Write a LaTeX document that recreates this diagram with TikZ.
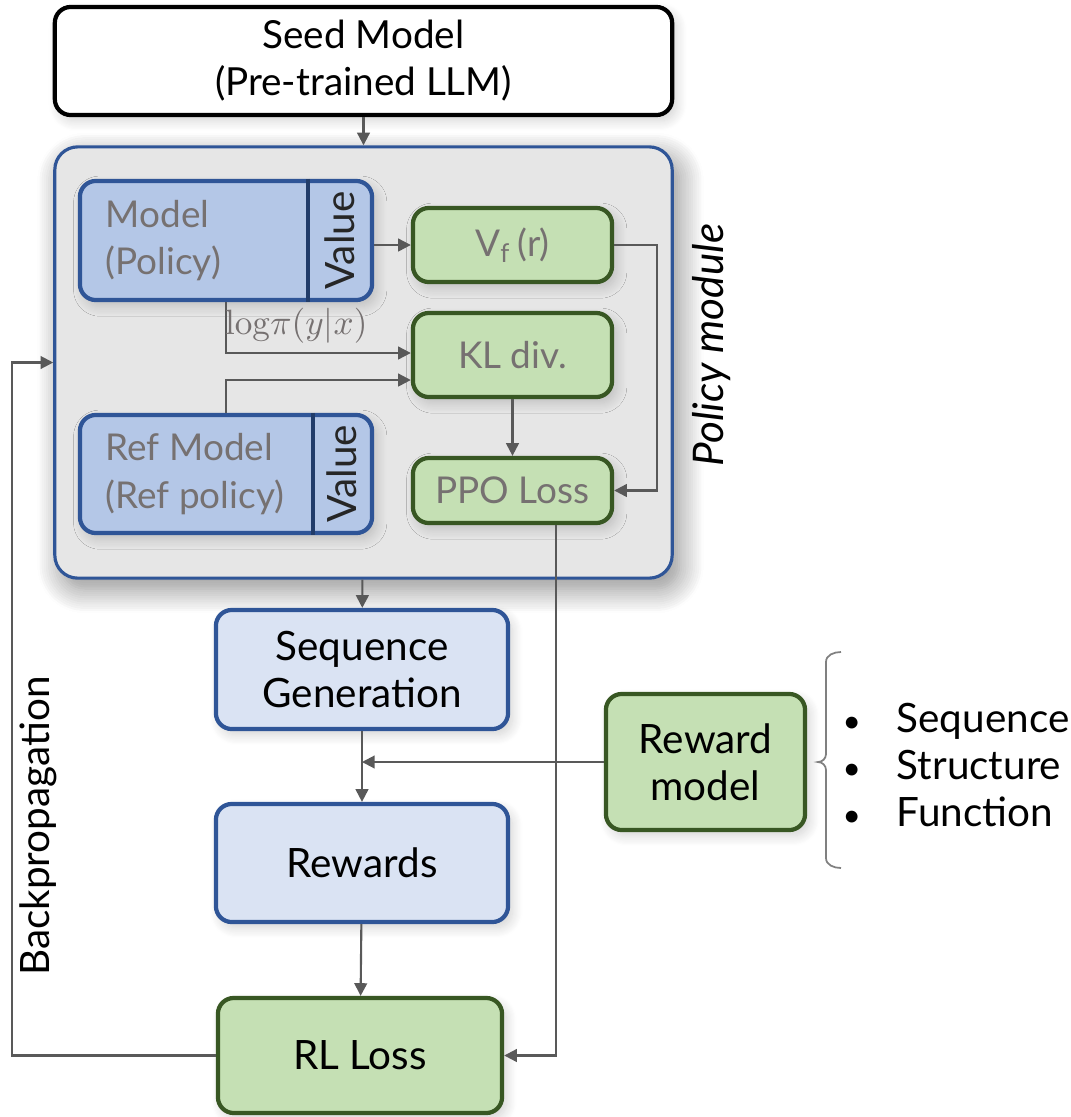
\documentclass[tikz,border=0pt]{standalone}
\usepackage[no-math]{fontspec}
\setmainfont{Lato}
\usetikzlibrary{arrows.meta,shadows.blur}

\definecolor{boxblue}{HTML}{2F5597}
\definecolor{modelfill}{HTML}{B4C7E7}
\definecolor{seqfill}{HTML}{DAE3F3}
\definecolor{greenfill}{HTML}{C5E0B4}
\definecolor{greenline}{HTML}{385723}
\definecolor{modulefill}{HTML}{E6E6E6}
\definecolor{textgray}{HTML}{767171}
\definecolor{arrowgray}{HTML}{595959}

\tikzset{
	box/.style={draw, rounded corners=4.5pt, line width=1.2pt, align=center, inner sep=0pt,
		font=\fontsize{11.5}{13.4}\selectfont,
		blur shadow={shadow blur steps=10, shadow xshift=1.2pt, shadow yshift=-1.6pt, shadow blur radius=3pt, shadow opacity=18}},
	bluebox/.style={box, draw=boxblue, fill=modelfill},
	lightbox/.style={box, draw=boxblue, fill=seqfill},
	greenbox/.style={box, draw=greenline, fill=greenfill},
	lossbox/.style={greenbox, text=textgray, font=\fontsize{10.5}{12.5}\selectfont},
	greytxt/.style={text=textgray, align=left, inner sep=0pt, font=\fontsize{10.5}{13.4}\selectfont},
	valtxt/.style={rotate=90, text=black!85, inner sep=0pt, font=\fontsize{11.5}{13.4}\selectfont},
	flow/.style={draw=arrowgray, line width=0.6pt, -{Triangle[length=3.6pt, width=3.6pt]}},
	divider/.style={draw=boxblue!70!black, line width=1.2pt},
	bracket/.style={draw=gray, line width=0.5pt}
}

\begin{document}
\begin{tikzpicture}[x=0.01cm, y=-0.01cm]
	\useasboundingbox (0,0) rectangle (1071,1117);

	% top and policy module
	\node[box, draw=black, fill=white, font=\fontsize{11}{13.4}\selectfont, minimum width=6.17cm, minimum height=1.08cm] (seed) at (363.5,61) {Seed Model\\(Pre-trained LLM)};
	\node[box, draw=boxblue, fill=modulefill, line width=0.9pt, rounded corners=6.5pt, minimum width=6.17cm, minimum height=4.31cm,
		blur shadow={shadow blur steps=12, shadow xshift=2pt, shadow yshift=-3pt, shadow blur radius=7pt, shadow opacity=25}] (policy) at (363.5,362.5) {};
	\node[rotate=90, font=\itshape\fontsize{12}{14}\selectfont] (policylbl) at (712,345) {Policy module};

	\node[bluebox, minimum width=2.92cm, minimum height=1.19cm] (model) at (226,240.5) {};
	\node[greytxt, anchor=west] (modeltxt) at (105,240.5) {Model\\(Policy)};
	\node[valtxt] (modelval) at (340,240.5) {Value};
	\draw[divider] (308,0 |- model.north) -- (308,0 |- model.south);

	\node[bluebox, minimum width=2.92cm, minimum height=1.18cm] (ref) at (226,474) {};
	\node[greytxt, anchor=west] (reftxt) at (105,474) {Ref Model\\(Ref policy)};
	\node[valtxt] (refval) at (342,474) {Value};
	\draw[divider] (313,0 |- ref.north) -- (313,0 |- ref.south);

	\node[lossbox, minimum width=1.99cm, minimum height=0.74cm] (vf) at (512.5,245) {V\textsubscript{f}\,(r)};
	\node[lossbox, minimum width=1.99cm, minimum height=0.84cm] (kl) at (512.5,355) {KL div.};
	\node[lossbox, minimum width=1.99cm, minimum height=0.65cm] (ppo) at (512.5,490.5) {PPO Loss};

	% lower chain
	\node[lightbox, minimum width=2.92cm, minimum height=1.19cm] (seqgen) at (362,669.5) {Sequence\\Generation};
	\node[lightbox, minimum width=2.92cm, minimum height=1.18cm] (rewards) at (362,863) {Rewards};
	\node[greenbox, minimum width=2.84cm, minimum height=1.15cm] (rlloss) at (360,1055.5) {RL Loss};
	\node[greenbox, minimum width=1.99cm, minimum height=1.36cm] (rewardm) at (705.5,762) {Reward\\model};
	\node[rotate=90, font=\fontsize{11.5}{13.4}\selectfont] (backlbl) at (38,826) {Backpropagation};

	\draw[bracket] (841,652) to[out=180,in=90] (826,662) -- (826,754) to[out=-90,in=0] (818,762)
		to[out=0,in=90] (826,770) -- (826,858) to[out=-90,in=180] (841,868);
	\node[anchor=west, align=left, inner sep=0pt, font=\fontsize{11.5}{13.3}\selectfont] (aspects) at (842,765)
		{\makebox[0.54cm][l]{\small\textbullet}Sequence\\\makebox[0.54cm][l]{\small\textbullet}Structure\\\makebox[0.54cm][l]{\small\textbullet}Function};

	% connectors
	\draw[flow] (seed) -- (policy);
	\draw[flow] (vf.west -| model.east) -- (vf.west);
	\draw[flow] (model.south) |- node[pos=0.69, above=-1pt, text=textgray]{$\mathrm{log}\pi(y|x)$} ([yshift=0.02cm]kl.west);
	\draw[flow] (ref.north) |- ([yshift=-0.25cm]kl.west);
	\draw[flow] (kl) -- (ppo);
	\draw[flow] (vf.east) -- ++(43,0) |- (ppo.east);
	\draw[flow] (policy) -- (seqgen);
	\draw[flow] (seqgen) -- (rewards);
	\draw[flow] (rewardm.west) -- (seqgen.south |- rewardm.west);
	\draw[flow] (rewards) -- (rlloss);
	\draw[flow] ([xshift=0.435cm]ppo.south) |- (rlloss.east);
	\coordinate (backx) at (12,700);
	\draw[flow] (rlloss.west) -| (backx) |- (policy.west);
\end{tikzpicture}
\end{document}
